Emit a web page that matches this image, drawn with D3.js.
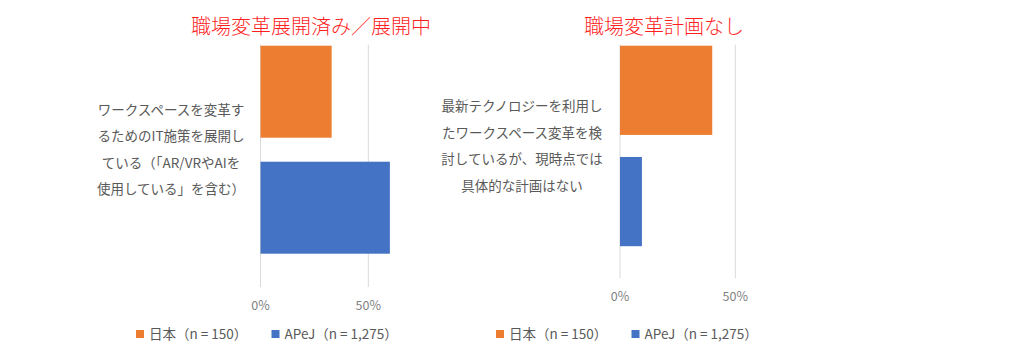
<!DOCTYPE html>
<html><head><meta charset="utf-8">
<script src="https://cdn.jsdelivr.net/npm/d3@7"></script>
<style>
html,body{margin:0;padding:0;background:#fff;}
svg{display:block;font-family:"Noto Sans CJK JP","Noto Sans",sans-serif;}
</style></head>
<body>
<svg id="chart" width="1024" height="360"></svg>
<script>
const panelTitles = ["職場変革展開済み／展開中", "職場変革計画なし"];
const categoryLines = [
  ["ワークスペースを変革す", "るためのIT施策を展開し", "ている（「AR/VRやAIを", "使用している」を含む）"],
  ["最新テクノロジーを利用し", "たワークスペース変革を検", "討しているが、現時点では", "具体的な計画はない"]
];
const seriesNames = ["日本（n = 150）", "APeJ（n = 1,275）"];
const japanValues = [33, 40];
const apejValues = [60, 9.5];
const tickValues = [0, 50];
const tickLabels = ["0%", "50%"];
const colors = ["#ED7D31", "#4472C4"];

const layout = [
  {x0: 260.5, px50: 107.8, top: 45.7, barBottom: 253.7, pad: 0.207, gridBottom: 287, labelX: 171, titleX: 311, tickY: 310, legendX: 136},
  {x0: 620, px50: 115.3, top: 45.7, barBottom: 246.2, pad: 0.198, gridBottom: 278, labelX: 522, titleX: 664, tickY: 301, legendX: 496}
];

const svg = d3.select("#chart");

layout.forEach((L, i) => {
  const g = svg.append("g");
  const x = d3.scaleLinear().domain([0, 50]).range([L.x0, L.x0 + L.px50]);
  const y = d3.scaleBand().domain(seriesNames).range([L.top, L.barBottom]).paddingInner(L.pad).paddingOuter(0);
  const vals = [japanValues[i], apejValues[i]];

  g.selectAll("line.grid").data(tickValues).enter().append("line")
    .attr("x1", d => x(d)).attr("x2", d => x(d))
    .attr("y1", L.top - 1).attr("y2", L.gridBottom)
    .attr("stroke", "#d9d9d9").attr("stroke-width", 1);

  g.selectAll("rect.bar").data(vals).enter().append("rect")
    .attr("x", x(0)).attr("y", (d, j) => y(seriesNames[j]))
    .attr("width", d => x(d) - x(0)).attr("height", y.bandwidth())
    .attr("fill", (d, j) => colors[j]);

  g.selectAll("text.tick").data(tickValues).enter().append("text")
    .attr("x", d => x(d)).attr("y", L.tickY)
    .attr("text-anchor", "middle").attr("font-size", 12.5).attr("fill", "#7f7f7f")
    .text((d, j) => tickLabels[j]);

  const mid = (L.top + y(seriesNames[1]) + y.bandwidth()) / 2;
  const lh = 26.5;
  const lines = categoryLines[i];
  g.selectAll("text.cat").data(lines).enter().append("text")
    .attr("x", L.labelX)
    .attr("y", (d, j) => mid + (j - (lines.length - 1) / 2) * lh + 5)
    .attr("text-anchor", "middle").attr("font-size", 13.5).attr("fill", "#595959")
    .text(d => d);

  g.append("text").attr("x", L.titleX).attr("y", 34)
    .attr("text-anchor", "middle").attr("font-size", 20).attr("font-weight", 300)
    .attr("fill", "#FF1F1F")
    .text(panelTitles[i]);

  const offs = [0, 135.5];
  seriesNames.forEach((s, j) => {
    const lx = L.legendX + offs[j];
    g.append("rect").attr("x", lx).attr("y", 330).attr("width", 8).attr("height", 8).attr("fill", colors[j]);
    g.append("text").attr("x", lx + 13).attr("y", 338.5).attr("font-size", 13.5).attr("fill", "#595959").text(s);
  });
});
</script>
</body></html>
